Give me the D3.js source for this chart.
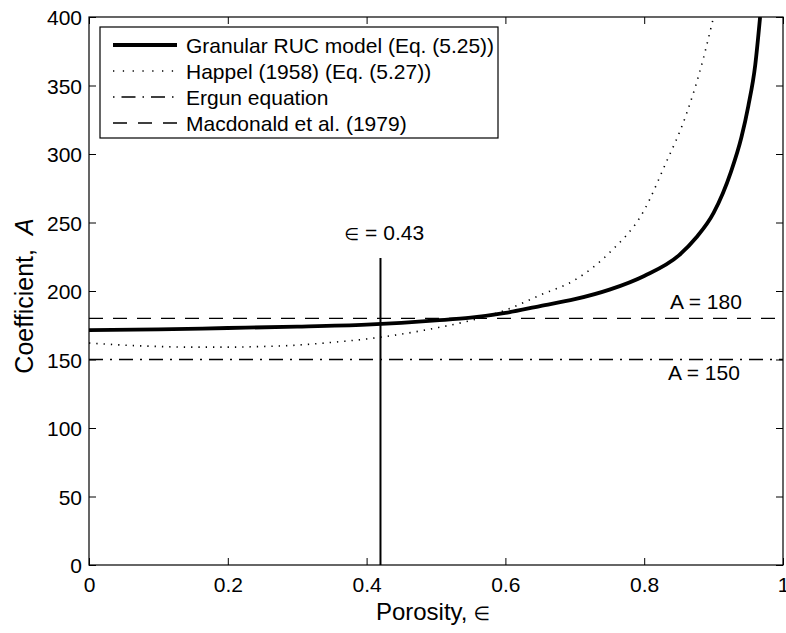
<!DOCTYPE html>
<html><head><meta charset="utf-8">
<script src="https://cdn.jsdelivr.net/npm/d3@7"></script>
<style>body{margin:0;background:#fff}svg{display:block}text{font-family:"Liberation Sans",Arial,Helvetica,sans-serif;fill:#000}</style>
</head><body><svg id="c" width="786" height="633"></svg>
<script>
const xTicks = [0, 0.2, 0.4, 0.6, 0.8, 1];
const xTickLabels = ["0", "0.2", "0.4", "0.6", "0.8", "1"];
const yTicks = [0, 50, 100, 150, 200, 250, 300, 350, 400];
const rucX = [0, 0.1, 0.2, 0.3, 0.4, 0.45, 0.5, 0.55, 0.6, 0.65, 0.7, 0.75, 0.8, 0.85, 0.875, 0.9, 0.925, 0.94, 0.95, 0.96, 0.967];
const rucA = [171.5, 172, 173, 174, 175.5, 176.8, 178.5, 180.5, 184, 189, 194, 201, 211, 226, 239, 257, 287, 312, 335, 365, 400];
const happelX = [0, 0.05, 0.1, 0.15, 0.2, 0.25, 0.3, 0.35, 0.4, 0.45, 0.5, 0.55, 0.6, 0.65, 0.7, 0.75, 0.8, 0.83, 0.86, 0.88, 0.9];
const happelA = [162, 160.5, 159.5, 159, 159, 159.5, 160.5, 162.5, 165, 168.5, 173, 178.5, 186, 197, 208, 228, 259, 292, 328, 360, 400];
const ergunA = 150;
const macdonaldA = 180;
const markerEps = 0.42;
const markerTop = 224;
const legendLabels = ["Granular RUC model (Eq. (5.25))", "Happel (1958) (Eq. (5.27))", "Ergun equation", "Macdonald et al. (1979)"];

const svg = d3.select("#c");
const L = 89, R = 783, T = 17, B = 565;
const x = d3.scaleLinear().domain([0, 1]).range([L, R]);
const y = d3.scaleLinear().domain([0, 400]).range([B, T]);

svg.append("defs").append("clipPath").attr("id", "clip")
  .append("rect").attr("x", L).attr("y", T).attr("width", R - L).attr("height", B - T);

const fs = 21;
const gx = svg.append("g").attr("transform", `translate(0,${B})`)
  .call(d3.axisBottom(x).tickValues(xTicks).tickFormat((d, i) => xTickLabels[i]).tickSize(-7).tickPadding(12));
const gxt = svg.append("g").attr("transform", `translate(0,${T})`)
  .call(d3.axisTop(x).tickValues(xTicks).tickFormat("").tickSize(-7));
const gy = svg.append("g").attr("transform", `translate(${L},0)`)
  .call(d3.axisLeft(y).tickValues(yTicks).tickSize(-7).tickPadding(7));
const gyr = svg.append("g").attr("transform", `translate(${R},0)`)
  .call(d3.axisRight(y).tickValues(yTicks).tickFormat("").tickSize(-7));
[gx, gxt, gy, gyr].forEach(g => {
  g.select(".domain").remove();
  g.selectAll("line").attr("stroke", "#000").attr("stroke-width", 1);
  g.selectAll("text").attr("font-size", fs).attr("font-family", '"Liberation Sans",Arial,sans-serif').attr("fill", "#000");
});
gx.selectAll("text").attr("dy", "0.71em");
gy.selectAll("text").attr("dy", "0.36em");

const plot = svg.append("g").attr("clip-path", "url(#clip)");
const line = d3.line().x(d => x(d[0])).y(d => y(d[1])).curve(d3.curveMonotoneX);

plot.append("path").datum(x.domain().map(e => [e, ergunA])).attr("d", line)
  .attr("fill", "none").attr("stroke", "#000").attr("stroke-width", 1.3).attr("stroke-dasharray", "14,7,2,7");
plot.append("path").datum(x.domain().map(e => [e, macdonaldA])).attr("d", line)
  .attr("fill", "none").attr("stroke", "#000").attr("stroke-width", 1.3).attr("stroke-dasharray", "14,10");
plot.append("path").datum(happelX.map((e, i) => [e, happelA[i]])).attr("d", line)
  .attr("fill", "none").attr("stroke", "#000").attr("stroke-width", 1.6).attr("stroke-dasharray", "1.3,6");
plot.append("path").datum(rucX.map((e, i) => [e, rucA[i]])).attr("d", line)
  .attr("fill", "none").attr("stroke", "#000").attr("stroke-width", 3.8);
plot.append("line").attr("x1", x(markerEps)).attr("x2", x(markerEps)).attr("y1", y(0)).attr("y2", y(markerTop))
  .attr("stroke", "#000").attr("stroke-width", 2);

svg.append("rect").attr("x", L).attr("y", T).attr("width", R - L).attr("height", B - T)
  .attr("fill", "none").attr("stroke", "#000").attr("stroke-width", 1.2);

const ann = svg.append("text").attr("x", x(markerEps) - 36).attr("y", 240).attr("font-size", fs);
ann.append("tspan").attr("font-family", '"DejaVu Sans",sans-serif').attr("font-size", 17).text("∈");
ann.append("tspan").text(" = 0.43");
svg.append("text").attr("x", 670).attr("y", 309).attr("font-size", fs).text("A = " + macdonaldA);
svg.append("text").attr("x", 668).attr("y", 380).attr("font-size", fs).text("A = " + ergunA);

const xl = svg.append("text").attr("x", (L + R) / 2 - 3).attr("y", 620).attr("text-anchor", "middle").attr("font-size", 24);
xl.append("tspan").text("Porosity,");
xl.append("tspan").attr("font-family", '"DejaVu Sans",sans-serif').attr("font-size", 19).attr("dx", 6).text("∈");
const yl = svg.append("text").attr("transform", `translate(33,${(T + B) / 2 + 5}) rotate(-90)`).attr("text-anchor", "middle").attr("font-size", 25);
yl.append("tspan").text("Coefficient,");
yl.append("tspan").attr("font-style", "italic").attr("dx", 14).text("A");

const lg = svg.append("g");
lg.append("rect").attr("x", 100).attr("y", 27).attr("width", 398).attr("height", 111)
  .attr("fill", "#fff").attr("stroke", "#000").attr("stroke-width", 1.2);
const styles = [
  {w: 3.8, d: null},
  {w: 1.6, d: "1.3,8.5"},
  {w: 1.3, d: "1.5,7,14,7"},
  {w: 1.3, d: "14,11"}
];
const rowY = [45, 71, 97, 123];
legendLabels.forEach((t, i) => {
  const l = lg.append("line").attr("x1", 113).attr("x2", 177).attr("y1", rowY[i]).attr("y2", rowY[i])
    .attr("stroke", "#000").attr("stroke-width", styles[i].w);
  if (styles[i].d) l.attr("stroke-dasharray", styles[i].d);
  lg.append("text").attr("x", 186).attr("y", rowY[i]).attr("dy", "0.36em").attr("font-size", fs).text(t);
});
</script></body></html>
